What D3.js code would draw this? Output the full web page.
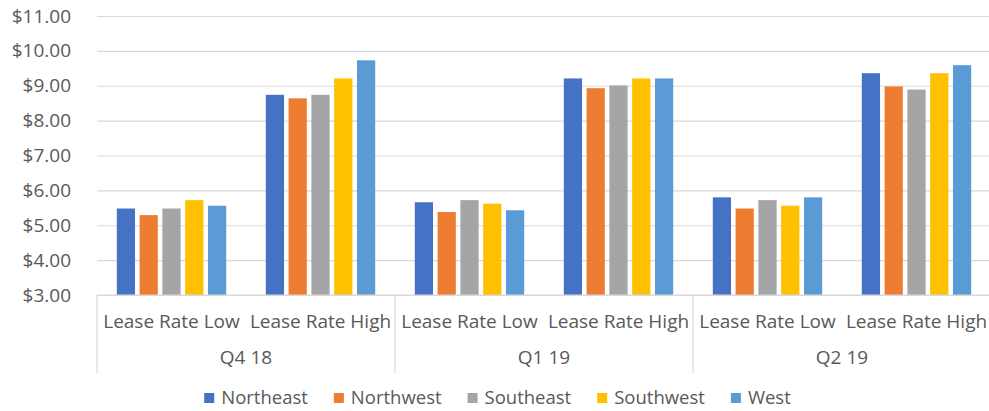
<!DOCTYPE html>
<html>
<head>
<meta charset="utf-8">
<script src="https://cdn.jsdelivr.net/npm/d3@7"></script>
<style>
  body { margin: 0; background: #fff; }
  svg { display: block; }
</style>
</head>
<body>
<div id="chart"></div>
<script>
// Data
const quarters = ["Q4 18", "Q1 19", "Q2 19"];
const rates = ["Lease Rate Low", "Lease Rate High"];
const regions = ["Northeast", "Northwest", "Southeast", "Southwest", "West"];
const regionColors = ["#4472C4", "#ED7D31", "#A5A5A5", "#FFC000", "#5B9BD5"];

// one array per region, in order Q4 18 low/high, Q1 19 low/high, Q2 19 low/high
const northeast = [5.48, 8.74, 5.66, 9.21, 5.80, 9.36];
const northwest = [5.29, 8.64, 5.38, 8.93, 5.48, 8.98];
const southeast = [5.48, 8.74, 5.72, 9.01, 5.72, 8.89];
const southwest = [5.72, 9.21, 5.62, 9.21, 5.56, 9.36];
const west      = [5.56, 9.73, 5.43, 9.21, 5.80, 9.59];
const yTicks = [3, 4, 5, 6, 7, 8, 9, 10, 11];

const seriesValues = [northeast, northwest, southeast, southwest, west];

// Build the rows: one per quarter + rate
const rows = [];
quarters.forEach((q, qi) => {
  rates.forEach((r, ri) => {
    const i = qi * rates.length + ri;
    rows.push({
      key: q + "|" + r,
      quarter: q,
      rate: r,
      values: regions.map((name, si) => ({ name, value: seriesValues[si][i] }))
    });
  });
});

const width = 989, height = 411;
const margins = {top: 16, right: 0, bottom: 116, left: 97};
const font = "'Open Sans', sans-serif";
const textColor = "#595959";
const gridColor = "#D9D9D9";

const svg = d3.select("#chart")
  .append("svg")
  .attr("width", width)
  .attr("height", height);

const x0 = d3.scaleBand()
  .domain(rows.map(d => d.key))
  .range([margins.left, width + 2 - margins.right])
  .padding(0);

const barPad = 19.8;
const x1 = d3.scaleBand()
  .domain(regions)
  .range([barPad, x0.bandwidth() - barPad])
  .paddingInner(0.2);

const y = d3.scaleLinear()
  .domain([3, 11])
  .range([height - margins.bottom, margins.top]);

const colors = d3.scaleOrdinal().domain(regions).range(regionColors);

// Gridlines and tick labels
const yAxis = d3.axisLeft(y)
  .tickValues(yTicks)
  .tickFormat(d => "$" + d3.format(".2f")(d))
  .tickSize(-(width - margins.left))
  .tickPadding(26);

svg.append("g")
    .attr("transform", `translate(${margins.left},0)`)
  .call(yAxis)
  .call(g => g.select(".domain").remove())
  .call(g => g.selectAll(".tick line").attr("stroke", gridColor).attr("stroke-width", 1.2))
  .call(g => g.selectAll(".tick text")
    .attr("fill", textColor)
    .style("font-family", font)
    .style("font-size", "19px"));

// Bars
svg.append("g")
  .selectAll("g")
  .data(rows)
  .join("g")
    .attr("transform", d => `translate(${x0(d.key)},0)`)
  .selectAll("rect")
  .data(d => d.values)
  .join("rect")
    .attr("x", d => x1(d.name))
    .attr("y", d => y(d.value))
    .attr("width", x1.bandwidth())
    .attr("height", d => y(3) - y(d.value))
    .attr("fill", d => colors(d.name));

// Category axis: rate labels, quarter labels, separators
const axisY = y(3);
const sepBottom = 373;

const catAxis = svg.append("g");

catAxis.append("line")
  .attr("x1", margins.left).attr("x2", width)
  .attr("y1", axisY).attr("y2", axisY)
  .attr("stroke", gridColor)
  .attr("stroke-width", 1.2);

const quarterScale = d3.scaleBand()
  .domain(quarters)
  .range(x0.range());

catAxis.selectAll("line.sep")
  .data(quarters.map(q => quarterScale(q)).concat([quarterScale.range()[1]]))
  .join("line")
    .attr("class", "sep")
    .attr("x1", d => d).attr("x2", d => d)
    .attr("y1", axisY).attr("y2", sepBottom)
    .attr("stroke", gridColor)
    .attr("stroke-width", 1.2);

catAxis.selectAll("text.rate")
  .data(rows)
  .join("text")
    .attr("class", "rate")
    .attr("x", d => x0(d.key) + x0.bandwidth() / 2)
    .attr("y", 321)
    .attr("dy", "0.35em")
    .attr("text-anchor", "middle")
    .attr("fill", textColor)
    .style("font-family", font)
    .style("font-size", "19px")
    .text(d => d.rate);

catAxis.selectAll("text.quarter")
  .data(quarters)
  .join("text")
    .attr("class", "quarter")
    .attr("x", d => quarterScale(d) + quarterScale.bandwidth() / 2)
    .attr("y", 357)
    .attr("dy", "0.35em")
    .attr("text-anchor", "middle")
    .attr("fill", textColor)
    .style("font-family", font)
    .style("font-size", "19px")
    .text(d => d);

// Legend
const legend = svg.append("g");
const items = legend.selectAll("g")
  .data(regions)
  .join("g");

items.append("rect")
  .attr("width", 10)
  .attr("height", 10)
  .attr("y", -5)
  .attr("fill", d => colors(d));

items.append("text")
  .attr("x", 17)
  .attr("dy", "0.35em")
  .attr("fill", textColor)
  .style("font-family", font)
  .style("font-size", "18.5px")
  .text(d => d);

let offset = 0;
const itemX = [];
items.each(function() {
  itemX.push(offset);
  const w = d3.select(this).select("text").node().getComputedTextLength();
  offset += 17 + w + 26;
});
const legendWidth = offset - 26;
items.attr("transform", (d, i) => `translate(${itemX[i]},0)`);
legend.attr("transform", `translate(${497.5 - legendWidth / 2},398)`);
</script>
</body>
</html>
